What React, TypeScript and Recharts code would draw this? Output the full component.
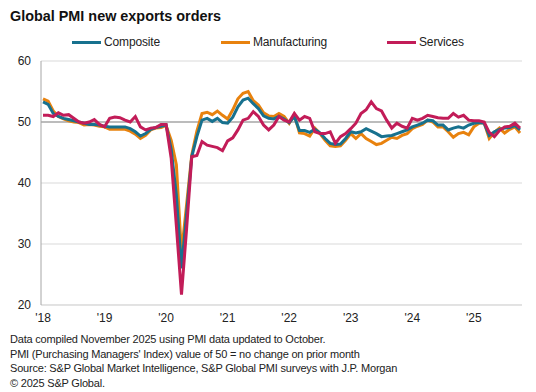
import React from "react";
import {
  LineChart,
  Line,
  XAxis,
  YAxis,
  CartesianGrid,
  ReferenceLine,
} from "recharts";

// monthly, Jan 2018 .. Oct 2025
const years = ["2018", "2019", "2020", "2021", "2022", "2023", "2024", "2025"];
const months = years.flatMap((y) =>
  ["01", "02", "03", "04", "05", "06", "07", "08", "09", "10", "11", "12"].map(
    (m) => `${y}-${m}`
  )
).slice(0, 94);

const composite = [
  53.3, 52.9, 51.4, 50.9, 50.6, 50.4, 50.2, 50.0, 49.8, 49.6, 49.6, 49.5,
  49.3, 49.2, 49.2, 49.2, 49.2, 48.9, 48.4, 47.7, 48.1, 48.8, 49.1, 49.3,
  49.5, 45.5, 38.0, 26.0, 35.0, 44.3, 47.6, 50.3, 50.6, 50.1, 50.6, 49.9,
  49.8, 50.8, 52.5, 53.6, 53.9, 53.0, 52.2, 51.0, 50.6, 50.5, 50.9, 50.5,
  49.9, 50.9, 48.6, 48.6, 48.3, 48.8, 48.2, 47.3, 46.5, 46.3, 46.4, 47.3,
  48.4, 48.2, 48.4, 48.9, 48.5, 48.1, 47.6, 47.7, 47.8, 48.1, 48.4, 48.7,
  49.2, 49.5, 49.8, 50.3, 50.2, 49.5, 49.5, 48.7, 49.0, 49.2, 49.0, 49.5,
  49.8, 49.9, 49.8, 47.8, 48.4, 48.8, 49.0, 49.1, 49.4, 48.7,
];

const manufacturing = [
  53.8, 53.4, 51.8, 50.9, 50.5, 50.2, 50.0, 49.9, 49.5, 49.6, 49.5, 49.3,
  49.2, 48.8, 48.8, 48.8, 48.8, 48.5, 48.0, 47.3, 47.8, 48.7, 49.0, 49.1,
  49.4, 47.0, 43.0, 28.5, 36.5, 44.6, 48.5, 51.4, 51.6, 51.2, 51.8, 51.1,
  50.5, 52.0, 53.8, 54.7, 55.0, 53.5, 52.8, 51.5, 51.0, 50.9, 51.4, 50.9,
  49.8, 51.2, 48.2, 48.1, 47.7, 49.0, 48.1, 47.0, 46.1, 46.0, 46.1, 47.0,
  48.1, 47.3, 48.1, 47.3, 46.8, 46.3, 46.5, 47.0, 47.5, 47.3, 47.8, 48.1,
  48.9, 49.3, 49.6, 50.3, 50.0, 49.2, 49.2, 48.4, 47.5, 48.1, 48.3, 47.9,
  49.2, 49.8, 49.9, 47.3, 48.3, 49.0, 48.2, 48.8, 49.2, 48.2,
];

const services = [
  51.1, 51.1, 50.9, 51.5, 51.1, 51.2, 50.6, 50.0, 49.8, 50.0, 50.4, 49.6,
  49.2, 50.6, 50.8, 50.7, 50.3, 50.0, 50.9, 49.2, 48.7, 49.0, 49.1, 49.6,
  49.6, 44.0, 33.0, 21.7, 32.5, 44.3, 44.5, 46.8, 46.2, 46.0, 45.8, 45.3,
  46.9, 47.4, 48.7, 50.3, 50.6, 51.7, 50.9, 49.5, 48.7, 49.5, 50.9, 50.3,
  50.0, 51.4, 50.3, 50.9, 50.6, 48.4, 48.1, 48.1, 48.4, 46.5, 47.6, 48.1,
  48.9, 49.8, 51.4, 52.0, 53.3, 52.2, 51.8, 50.3, 49.0, 49.8, 49.3, 49.0,
  50.6, 50.3, 50.6, 51.1, 50.9, 50.7, 50.6, 50.6, 51.4, 50.8, 51.1, 50.3,
  50.2, 50.2, 50.0, 48.3, 47.6, 48.6, 49.2, 49.3, 49.8, 49.0,
];

const yTicks = [20, 30, 40, 50, 60];

const footnotes = [
  "Data compiled November 2025 using PMI data updated to October.",
  "PMI (Purchasing Managers' Index) value of 50 = no change on prior month",
  "Source: S&P Global Market Intelligence, S&P Global PMI surveys with J.P. Morgan",
  "\u00a9 2025 S&P Global.",
];

const COLORS = {
  composite: "#17718e",
  manufacturing: "#e8820e",
  services: "#c21c58",
};

const data = months.map((m, i) => ({
  m,
  composite: composite[i],
  manufacturing: manufacturing[i],
  services: services[i],
}));

const FONT = "'Liberation Sans', Arial, sans-serif";

const LegendItem = ({ x, color, label }: { x: number; color: string; label: string }) => (
  <div style={{ position: "absolute", left: x, top: 34, height: 16, display: "flex", alignItems: "center" }}>
    <div style={{ width: 29, height: 3, background: color, marginRight: 3 }} />
    <span style={{ fontSize: 12, color: "#222", letterSpacing: -0.15 }}>{label}</span>
  </div>
);

export default function App() {
  return (
    <div
      style={{
        position: "fixed",
        left: 0,
        top: 0,
        width: 536,
        height: 392,
        background: "#fff",
        fontFamily: FONT,
        overflow: "hidden",
      }}
    >
      <div style={{ position: "absolute", left: 10, top: 8, fontSize: 14.4, fontWeight: 700, color: "#111" }}>
        Global PMI new exports orders
      </div>

      <LegendItem x={72} color={COLORS.composite} label="Composite" />
      <LegendItem x={221} color={COLORS.manufacturing} label="Manufacturing" />
      <LegendItem x={387} color={COLORS.services} label="Services" />

      <div style={{ position: "absolute", left: 0, top: 0 }}>
        <LineChart
          width={536}
          height={335}
          data={data}
          margin={{ top: 61, right: 14, left: 8, bottom: 0 }}
        >
          <CartesianGrid vertical={false} stroke="#d9d9d9" />
          <XAxis
            dataKey="m"
            interval={11}
            tickFormatter={(v: string) => `'${v.slice(2, 4)}`}
            tick={{ fontSize: 12, fill: "#222", fontFamily: FONT }}
            tickLine={false}
            axisLine={{ stroke: "#d9d9d9" }}
            padding={{ left: 2, right: 2 }}
            height={30}
          />
          <YAxis
            domain={[20, 60]}
            ticks={yTicks}
            width={33}
            tick={{ fontSize: 12, fill: "#222", fontFamily: FONT }}
            tickLine={false}
            tickMargin={4}
            axisLine={{ stroke: "#a6a6a6" }}
          />
          <ReferenceLine y={50} stroke="#8c8c8c" strokeWidth={1} />
          <Line
            type="linear"
            dataKey="manufacturing"
            stroke={COLORS.manufacturing}
            strokeWidth={3}
            dot={false}
            isAnimationActive={false}
          />
          <Line
            type="linear"
            dataKey="composite"
            stroke={COLORS.composite}
            strokeWidth={3}
            dot={false}
            isAnimationActive={false}
          />
          <Line
            type="linear"
            dataKey="services"
            stroke={COLORS.services}
            strokeWidth={3}
            dot={false}
            isAnimationActive={false}
          />
        </LineChart>
      </div>

      <div
        style={{
          position: "absolute",
          left: 10,
          top: 332,
          fontSize: 11,
          lineHeight: "14.7px",
          letterSpacing: -0.2,
          color: "#222",
        }}
      >
        {footnotes.map((t) => (
          <div key={t} style={{ whiteSpace: "nowrap" }}>
            {t}
          </div>
        ))}
      </div>
    </div>
  );
}
